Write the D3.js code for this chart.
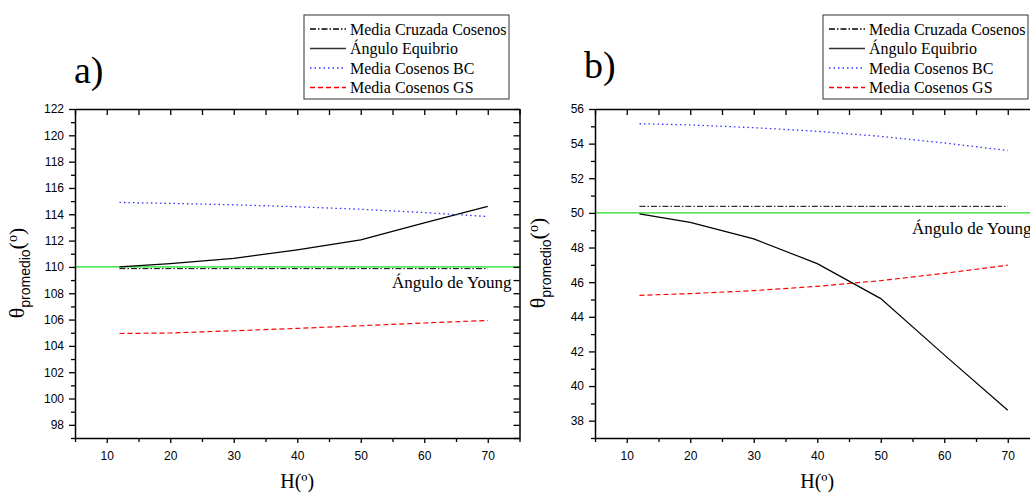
<!DOCTYPE html>
<html>
<head>
<meta charset="utf-8">
<title>Angulo promedio vs H</title>
<script src="https://cdn.jsdelivr.net/npm/d3@7"></script>
<style>
  body { margin:0; background:#fff; }
  .tick text { font-family: "Liberation Sans", Arial, sans-serif; font-size:12px; fill:#000; }
</style>
</head>
<body>
<svg id="chart" width="1030" height="492"></svg>
<script>
var SERIF = "'Liberation Serif', 'Times New Roman', serif";
var SANS = "'Liberation Sans', Arial, sans-serif";

// H values (x)
var hVals = [12, 20, 30, 40, 50, 60, 70];

// panel a
var cruzadaA = [109.87, 109.87, 109.87, 109.87, 109.87, 109.87, 109.87];
var equilibrioA = [110.0, 110.25, 110.65, 111.3, 112.05, 113.35, 114.6];
var bcA = [114.9, 114.83, 114.72, 114.57, 114.38, 114.13, 113.83];
var gsA = [104.94, 104.98, 105.15, 105.33, 105.53, 105.74, 105.93];
var youngA = 110;

// panel b
var cruzadaB = [50.38, 50.38, 50.38, 50.38, 50.38, 50.38, 50.38];
var equilibrioB = [49.94, 49.45, 48.5, 47.07, 45.05, 41.8, 38.6];
var bcB = [55.15, 55.08, 54.92, 54.71, 54.42, 54.04, 53.6];
var gsB = [45.24, 45.34, 45.51, 45.76, 46.09, 46.51, 46.98];
var youngB = 50;

var xMajor = [10, 20, 30, 40, 50, 60, 70];
var xMinor = [5, 15, 25, 35, 45, 55, 65, 75];
var yMajorA = d3.range(98, 123, 2);
var yMinorA = d3.range(97, 122, 2);
var yMajorB = d3.range(38, 57, 2);
var yMinorB = d3.range(37, 56, 2);

var legendNames = ["Media Cruzada Cosenos", "Ángulo Equibrio", "Media Cosenos BC", "Media Cosenos GS"];
var styles = [
  {color:"#000", dash:"6,2,1.5,2", w:1},
  {color:"#000", dash:null, w:1.2},
  {color:"#3030ff", dash:"1.5,3", w:1.3},
  {color:"#ff0000", dash:"5,3", w:1.2}
];

var svg = d3.select("#chart");

function panel(o) {
  var x = d3.scaleLinear().domain([5, 75]).range([o.left, o.left + 444.5]);
  var y = d3.scaleLinear().domain(o.yDomain).range([o.bottom, o.top]);
  var g = svg.append("g");

  // young angle
  g.append("line")
    .attr("x1", x(5)).attr("x2", x(75))
    .attr("y1", y(o.young)).attr("y2", y(o.young))
    .attr("stroke", "#22dd22").attr("stroke-width", 1.2);

  var line = d3.line().x(function(d, i){ return x(hVals[i]); }).y(function(d){ return y(d); });
  o.series.forEach(function(s, i){
    g.append("path").datum(s)
      .attr("d", line)
      .attr("fill", "none")
      .attr("stroke", styles[i].color)
      .attr("stroke-width", styles[i].w)
      .attr("stroke-dasharray", styles[i].dash);
  });

  // axes
  g.append("g").attr("transform", "translate(0," + o.bottom + ")")
    .call(d3.axisBottom(x).tickValues(xMajor).tickSize(5).tickPadding(8).tickSizeOuter(0));
  g.append("g").attr("transform", "translate(0," + o.bottom + ")")
    .call(d3.axisBottom(x).tickValues(xMinor).tickSize(4).tickFormat("").tickSizeOuter(0))
    .select(".domain").remove();
  g.append("g").attr("transform", "translate(0," + o.top + ")")
    .call(d3.axisTop(x).tickValues(xMajor.concat(xMinor)).tickSize(-6).tickFormat("").tickSizeOuter(0));
  g.append("g").attr("transform", "translate(" + o.left + ",0)")
    .call(d3.axisLeft(y).tickValues(o.yMajor).tickSize(6).tickPadding(5).tickSizeOuter(0));
  g.append("g").attr("transform", "translate(" + o.left + ",0)")
    .call(d3.axisLeft(y).tickValues(o.yMinor).tickSize(4).tickFormat("").tickSizeOuter(0))
    .select(".domain").remove();
  g.append("g").attr("transform", "translate(" + x(75) + ",0)")
    .call(d3.axisRight(y).tickValues(o.yMajor.concat(o.yMinor)).tickSize(-6).tickFormat("").tickSizeOuter(0));
  g.selectAll(".domain").attr("stroke-width", 1.5);
  g.selectAll(".tick line").attr("stroke-width", 1.3);

  // Ángulo de Young label
  g.append("text").style("font-family", SERIF)
    .attr("x", x(75) - 8).attr("y", y(o.young) + 21)
    .attr("text-anchor", "end").attr("font-size", 17)
    .text("Ángulo de Young");

  // x label
  g.append("text").style("font-family", SERIF)
    .attr("x", x(40)).attr("y", 488)
    .attr("text-anchor", "middle").attr("font-size", 20)
    .text("H(º)");

  // y label
  var yl = g.append("text")
    .attr("transform", "translate(" + o.ylabX + "," + o.ylabY + ") rotate(-90)")
    .attr("text-anchor", "middle");
  yl.append("tspan").style("font-family", SERIF).attr("font-size", 22).text("θ");
  yl.append("tspan").style("font-family", SANS).attr("font-size", 14).attr("dy", 6).text("promedio");
  yl.append("tspan").style("font-family", SERIF).attr("font-size", 22).attr("dy", -6).text("(");
  yl.append("tspan").style("font-family", SERIF).attr("font-size", 14).attr("dy", -7).text("o");
  yl.append("tspan").style("font-family", SERIF).attr("font-size", 22).attr("dy", 7).text(")");

  // panel letter
  g.append("text").style("font-family", SERIF)
    .attr("x", o.letterX).attr("y", o.letterY)
    .attr("font-size", 38).text(o.letter);

  // legend
  var lg = g.append("g").attr("transform", "translate(" + o.legX + ",15)");
  lg.append("rect").attr("width", 205).attr("height", 84)
    .attr("fill", "#fff").attr("stroke", "#333").attr("stroke-width", 1);
  legendNames.forEach(function(n, i){
    var yy = 14 + i * 19.5;
    lg.append("line").attr("x1", 6).attr("x2", 42).attr("y1", yy).attr("y2", yy)
      .attr("stroke", i === 1 ? "#333" : styles[i].color).attr("stroke-width", 1.3)
      .attr("stroke-dasharray", styles[i].dash);
    lg.append("text").style("font-family", SERIF).attr("x", 46).attr("y", yy + 5.5)
      .attr("font-size", 16).text(n);
  });
}

panel({left:75, top:109, bottom:438, yDomain:[97, 122], yMajor:yMajorA, yMinor:yMinorA,
  series:[cruzadaA, equilibrioA, bcA, gsA], young:youngA,
  ylabX:24, ylabY:273, letter:"a)", letterX:74, letterY:83, legX:304});

panel({left:595, top:109, bottom:438, yDomain:[37, 56], yMajor:yMajorB, yMinor:yMinorB,
  series:[cruzadaB, equilibrioB, bcB, gsB], young:youngB,
  ylabX:545, ylabY:263, letter:"b)", letterX:584, letterY:78, legX:823});
</script>
</body>
</html>
